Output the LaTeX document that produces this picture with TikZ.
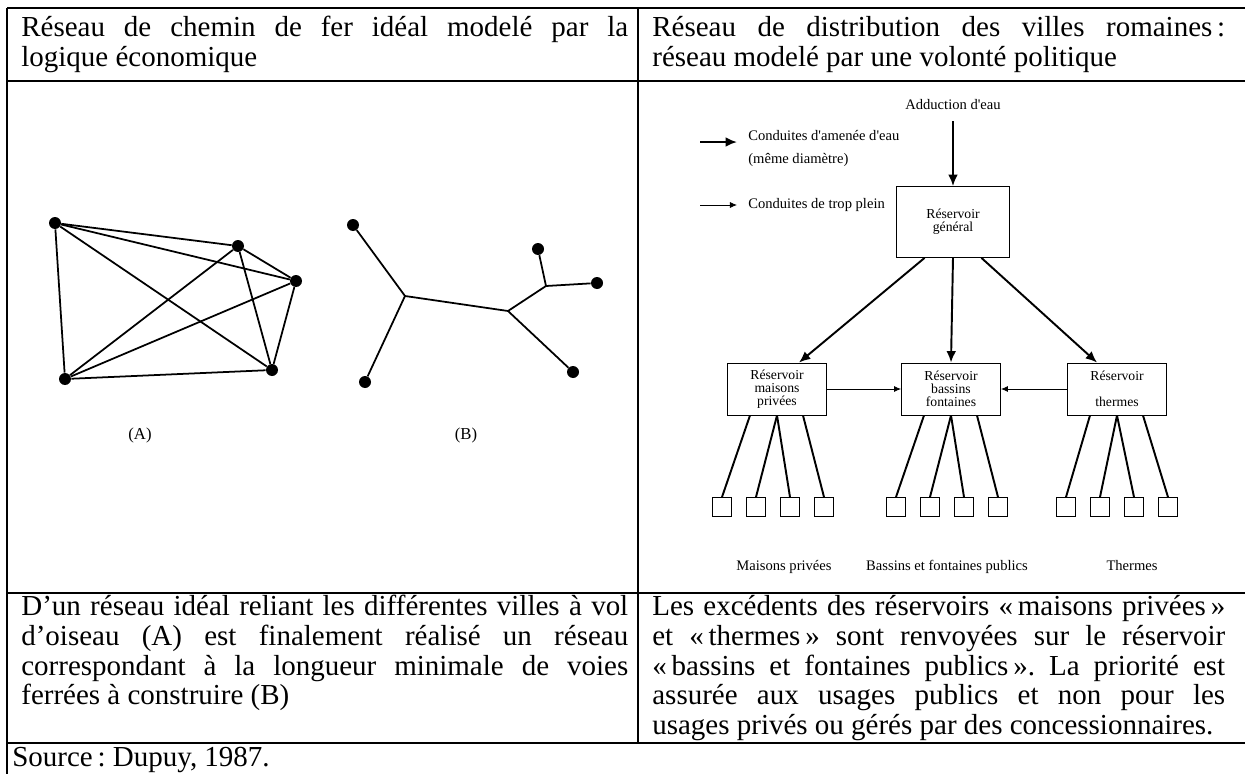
\documentclass[tikz,border=0pt]{standalone}
\usepackage{fontspec}
\usepackage{tikz}
\usetikzlibrary{positioning}
\usetikzlibrary{calc}
\usetikzlibrary{arrows.meta}
\newfontfamily\cellfont{Liberation Serif}
\newfontfamily\scanfont{Liberation Serif}
\frenchspacing

\begin{document}
\begin{tikzpicture}[x=0.02cm, y=-0.02cm,
	rule/.style={line width=1.3pt},
	celltext/.style={anchor=north west, inner sep=0pt, align=justify, font=\cellfont\fontsize{16.5}{17}\selectfont},
	town/.style={circle, fill, inner sep=0pt, minimum size=0.24cm},
	rail/.style={line width=1pt},
	scantext/.style={inner sep=0pt, font=\scanfont\fontsize{8.3}{8.5}\selectfont},
	reservoir/.style={draw, line width=0.5pt, minimum width=1.98cm, minimum height=1.04cm, align=center, inner sep=1pt, font=\scanfont\fontsize{7.8}{7.4}\selectfont},
	basin/.style={draw, line width=0.5pt, minimum size=0.38cm, inner sep=0pt},
	feed/.style={line width=1.1pt, -{Latex[length=6.5pt,width=5.5pt]}},
	overflow/.style={line width=0.5pt, -{Latex[length=4pt,width=3.5pt]}},
	pipe/.style={line width=1.1pt}]
	\useasboundingbox (0,0) rectangle (1245,774);
	% Table rules
	\draw[rule] (7,8) -- (1245,8);
	\draw[rule] (7,81) -- (1245,81);
	\draw[rule] (7,593) -- (1245,593);
	\draw[rule] (7,743) -- (1245,743);
	\draw[rule] (7,8) -- (7,774);
	\draw[rule] (638,8) -- (638,743);
	% Cell texts
	\node[celltext, text width=12.14cm] (headA) at (21,15) {\strut Réseau de chemin de fer idéal modelé par la\linebreak logique économique};
	\node[celltext, text width=11.46cm] (headB) at (652,15) {\strut Réseau de distribution des villes romaines\,:\linebreak réseau modelé par une volonté politique};
	\node[celltext, text width=12.14cm] (noteA) at (21,594) {\strut D’un réseau idéal reliant les différentes villes à vol\linebreak d’oiseau (A) est finalement réalisé un réseau\linebreak correspondant à la longueur minimale de voies\linebreak ferrées à construire (B)};
	\node[celltext, text width=11.46cm] (noteB) at (652,594) {\strut Les excédents des réservoirs «\,maisons privées\,»\linebreak et «\,thermes\,» sont renvoyées sur le réservoir\linebreak «\,bassins et fontaines publics\,». La priorité est\linebreak assurée aux usages publics et non pour les\linebreak usages privés ou gérés par des concessionnaires.};
	\node[anchor=base west, inner sep=0pt, font=\cellfont\fontsize{16.5}{17}\selectfont] (source) at (12,766) {Source\,: Dupuy, 1987.};

	% Graph (A): every town linked to every other
	\node[town] (a1) at (55,223) {};
	\node[town] (a2) at (238,246) {};
	\node[town] (a3) at (296,281) {};
	\node[town] (a4) at (272,370) {};
	\node[town] (a5) at (65,379) {};
	\foreach \s/\t in {a1/a2, a1/a3, a1/a4, a1/a5, a2/a3, a2/a4, a2/a5, a3/a4, a3/a5, a4/a5}
		\draw[rail] (\s) -- (\t);
	\node[scantext, font=\scanfont\fontsize{9.5}{10}\selectfont] (lblA) at (140,435) {(A)};
	% Graph (B): minimal network
	\node[town] (b1) at (353,225) {};
	\node[town] (b2) at (365,382) {};
	\node[town] (b3) at (538,249) {};
	\node[town] (b4) at (597,283) {};
	\node[town] (b5) at (573,372) {};
	\coordinate (j1) at (405,296);
	\coordinate (j2) at (508,311);
	\coordinate (j3) at (546,286);
	\draw[rail] (b1) -- (j1) -- (b2);
	\draw[rail] (j1) -- (j2) -- (b5);
	\draw[rail] (j2) -- (j3) -- (b3);
	\draw[rail] (j3) -- (b4);
	\node[scantext, font=\scanfont\fontsize{9.5}{10}\selectfont] (lblB) at (466,435) {(B)};

	% Legend
	\coordinate (legfeed) at (700,142);
	\coordinate (legfeedend) at (737,142);
	\coordinate (legover) at (700,205);
	\coordinate (legoverend) at (737,205);
	\draw[feed] (legfeed) -- (legfeedend);
	\draw[overflow] (legover) -- (legoverend);
	\node[scantext, anchor=west] (legfeedtxt) at (748,136) {Conduites d'amenée d'eau};
	\node[scantext, anchor=west] (legdiam) at (748,160) {(même diamètre)};
	\node[scantext, anchor=west] (legovertxt) at (748,205) {Conduites de trop plein};

	% Reservoirs
	\node[scantext] (adduc) at (953,105) {Adduction d'eau};
	\node[reservoir, minimum width=2.26cm, minimum height=1.42cm] (gen) at (953,222) {Réservoir\\général};
	\node[reservoir] (res-l) at (777,389) {Réservoir\\maisons\\privées};
	\node[reservoir] (res-m) at (951,389) {Réservoir\\bassins\\fontaines};
	\node[reservoir] (res-r) at (1117,389) {Réservoir\\[7.4pt]thermes};
	% Basins
	\foreach \g/\gx in {l/722, m/896, r/1066}
		\foreach \i in {1,...,4}
			\node[basin] (sq-\g\i) at ({\gx+34*(\i-1)},507) {};
	\node[scantext, anchor=base] (lblpriv) at (784,570) {Maisons privées};
	\node[scantext, anchor=base] (lblpub) at (947,570) {Bassins et fontaines publics};
	\node[scantext, anchor=base] (lblterm) at (1132,570) {Thermes};

	% Draw the paths between nodes
	\draw[feed, shorten <=6pt] (adduc.south) -- (gen.north);
	\draw[feed] ($(gen.south west)!.25!(gen.south east)$) -- ($(res-l.north west)!.72!(res-l.north east)$);
	\draw[feed] (gen.south) -- (res-m.north);
	\draw[feed] ($(gen.south west)!.75!(gen.south east)$) -- ($(res-r.north west)!.3!(res-r.north east)$);
	\draw[overflow] (res-l.east) -- (res-m.west);
	\draw[overflow] (res-r.west) -- (res-m.east);
	\foreach \g in {l,m,r} {
		\draw[pipe] ($(res-\g.south)+(-27,0)$) -- (sq-\g1.north);
		\draw[pipe] (res-\g.south) -- (sq-\g2.north);
		\draw[pipe] (res-\g.south) -- (sq-\g3.north);
		\draw[pipe] ($(res-\g.south)+(26,0)$) -- (sq-\g4.north);
	}
\end{tikzpicture}
\end{document}
